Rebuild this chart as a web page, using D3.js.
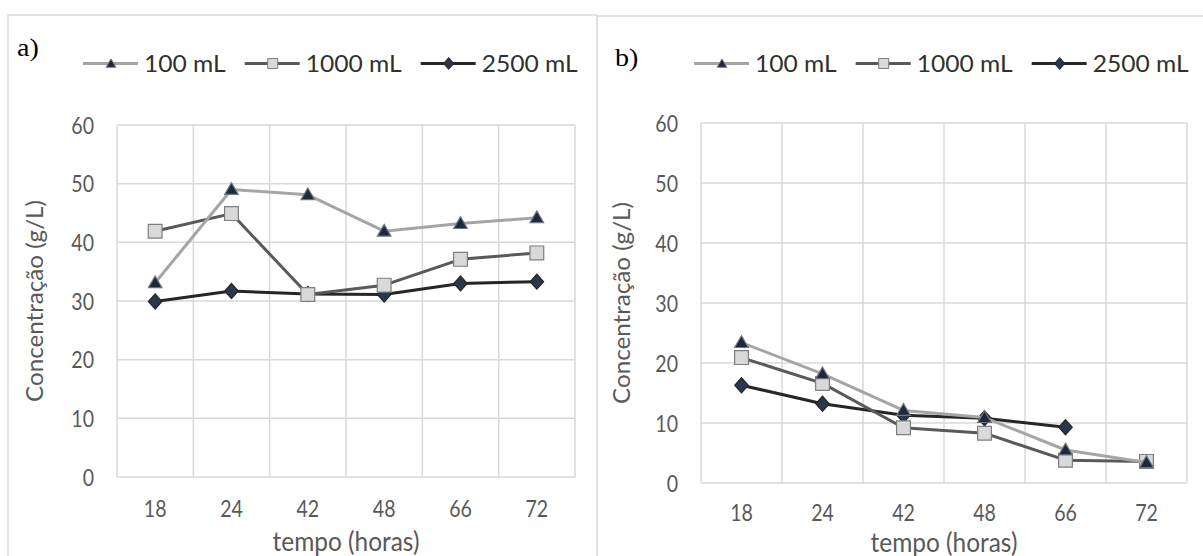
<!DOCTYPE html>
<html>
<head>
<meta charset="utf-8">
<script src="https://cdn.jsdelivr.net/npm/d3@7"></script>
<style>
  html, body { margin: 0; padding: 0; background: #fff; }
  svg { display: block; }
</style>
</head>
<body>
<div id="chart"></div>
<script>
// === data ===
const categories = ["18", "24", "42", "48", "66", "72"];
const seriesNames = ["100 mL", "1000 mL", "2500 mL"];
const yTicks = [0, 10, 20, 30, 40, 50, 60];

const a100  = [33.1, 49.0, 48.1, 41.9, 43.2, 44.2];
const a1000 = [41.9, 44.9, 31.1, 32.7, 37.1, 38.2];
const a2500 = [29.9, 31.7, 31.2, 31.1, 33.0, 33.3];

const b100  = [23.4, 18.2, 12.1, 10.9, 5.5, 3.4];
const b1000 = [20.9, 16.6, 9.2, 8.3, 3.8, 3.6];
const b2500 = [16.3, 13.2, 11.3, 10.8, 9.3, null];

// === styles ===
const styles = [
  { line: "#a5a5a5", shape: "triangle", fill: "#1e2a3b", stroke: "#6f7680" },
  { line: "#595959", shape: "square",   fill: "#d9d9d9", stroke: "#7f7f7f" },
  { line: "#262626", shape: "diamond",  fill: "#2b384c", stroke: "#262626" }
];
const FONT = "Lato, 'Open Sans', sans-serif";
const GRID = "#d9d9d9";
const TXT = "#595959";

const W = 1203, H = 556;
const svg = d3.select("#chart").append("svg")
  .attr("width", W).attr("height", H);

// panel frames
svg.append("rect")
  .attr("x", 8).attr("y", 15).attr("width", 589).attr("height", 560)
  .attr("fill", "none").attr("stroke", GRID).attr("stroke-width", 1.5);
svg.append("line")
  .attr("x1", 597).attr("x2", W).attr("y1", 16).attr("y2", 16)
  .attr("stroke", GRID).attr("stroke-width", 1.5);

const panels = [
  { tag: "a)", tagX: 17, tagY: 56, data: [a100, a1000, a2500],
    left: 117, right: 575, top: 125, bottom: 477,
    legendX: 83, legendY: 63.5, yTitleX: 43, xTitleY: 551, xLab: 39.5 },
  { tag: "b)", tagX: 615, tagY: 66, data: [b100, b1000, b2500],
    left: 701, right: 1187, top: 123, bottom: 483,
    legendX: 694, legendY: 63.5, yTitleX: 630, xTitleY: 552, xLab: 37.5 }
];

function marker(sel, shape, big) {
  if (shape === "triangle") {
    sel.attr("d", d3.symbol(d3.symbolTriangle, big ? 80 : 40)());
  } else if (shape === "square") {
    sel.attr("d", d3.symbol(d3.symbolSquare, big ? 190 : 100)());
  } else {
    sel.attr("d", d3.symbol(d3.symbolSquare, big ? 90 : 50)());
  }
  return sel;
}

function markerTransform(shape, x, y) {
  if (shape === "diamond") return `translate(${x},${y}) scale(1,1.12) rotate(45)`;
  if (shape === "triangle") return `translate(${x},${y + 1})`;
  return `translate(${x},${y})`;
}

panels.forEach(p => {
  const g = svg.append("g");

  const x = d3.scaleBand().domain(categories).range([p.left, p.right]);
  const y = d3.scaleLinear().domain([0, 60]).range([p.bottom, p.top]);

  // gridlines
  g.append("g").selectAll("line").data(yTicks).join("line")
    .attr("x1", p.left).attr("x2", p.right)
    .attr("y1", d => y(d)).attr("y2", d => y(d))
    .attr("stroke", GRID).attr("stroke-width", 1.5);
  const bounds = categories.map(c => x(c)).concat([x.range()[1]]);
  g.append("g").selectAll("line").data(bounds).join("line")
    .attr("x1", d => d).attr("x2", d => d)
    .attr("y1", p.top).attr("y2", p.bottom)
    .attr("stroke", GRID).attr("stroke-width", 1.5);

  // y axis labels
  const ya = g.append("g").attr("transform", `translate(${p.left},0)`)
    .call(d3.axisLeft(y).tickValues(yTicks).tickSize(0).tickFormat(d3.format("d")));
  ya.select(".domain").remove();
  ya.selectAll("text")
    .attr("x", null).attr("dy", null)
    .attr("transform", "translate(-23,8.3) scale(0.85,1)")
    .attr("text-anchor", "end")
    .attr("fill", TXT).style("font-family", FONT).style("font-size", "23px");

  // x axis labels
  const xa = g.append("g").attr("transform", `translate(0,${p.bottom})`)
    .call(d3.axisBottom(x).tickSize(0));
  xa.select(".domain").remove();
  xa.selectAll("text")
    .attr("y", null).attr("dy", null)
    .attr("transform", `translate(0,${p.xLab}) scale(0.85,1)`)
    .attr("fill", TXT).style("font-family", FONT).style("font-size", "23px");

  // axis titles
  g.append("text")
    .attr("transform", `translate(${(p.left + p.right) / 2},${p.xTitleY}) scale(0.94,1)`)
    .attr("text-anchor", "middle")
    .attr("fill", TXT).style("font-family", FONT).style("font-size", "26px")
    .text("tempo (horas)");
  g.append("text")
    .attr("transform", `translate(${p.yTitleX},${(p.top + p.bottom) / 2}) rotate(-90) scale(1.05,1)`)
    .attr("text-anchor", "middle")
    .attr("fill", TXT).style("font-family", FONT).style("font-size", "23px")
    .text("Concentração (g/L)");

  // panel tag
  g.append("text")
    .attr("transform", `translate(${p.tagX},${p.tagY}) scale(1.08,1)`)
    .attr("fill", "#000")
    .style("font-family", "'Liberation Serif', 'Times New Roman', serif")
    .style("font-size", "26px")
    .text(p.tag);

  // series (last series underneath, first on top)
  d3.range(p.data.length).reverse().forEach(i => {
    const vals = p.data[i];
    const st = styles[i];
    const pts = categories.map((c, k) => ({ c, v: vals[k] }));
    const line = d3.line()
      .defined(d => d.v != null)
      .x(d => x(d.c) + x.bandwidth() / 2)
      .y(d => y(d.v));
    const sg = g.append("g");
    sg.append("path").datum(pts)
      .attr("d", line)
      .attr("fill", "none").attr("stroke", st.line)
      .attr("stroke-width", 3).attr("stroke-linejoin", "round");
    sg.selectAll("path.m").data(pts.filter(d => d.v != null)).join("path")
      .attr("class", "m")
      .call(s => marker(s, st.shape, true))
      .attr("transform", d => markerTransform(st.shape, x(d.c) + x.bandwidth() / 2, y(d.v)))
      .attr("fill", st.fill).attr("stroke", st.stroke).attr("stroke-width", 1.2);
  });

  // legend
  let lx = p.legendX;
  seriesNames.forEach((name, i) => {
    const st = styles[i];
    const lg = g.append("g");
    lg.append("line")
      .attr("x1", lx).attr("x2", lx + 55)
      .attr("y1", p.legendY).attr("y2", p.legendY)
      .attr("stroke", st.line).attr("stroke-width", 3);
    lg.append("path")
      .call(s => marker(s, st.shape, false))
      .attr("transform", markerTransform(st.shape, lx + 28, p.legendY))
      .attr("fill", st.fill).attr("stroke", st.stroke).attr("stroke-width", 1);
    const t = lg.append("text")
      .attr("transform", `translate(${lx + 61},${p.legendY + 8.3}) scale(1.07,1)`)
      .attr("fill", "#303030").style("font-family", FONT).style("font-size", "23px")
      .text(name);
    lx += 61 + t.node().getComputedTextLength() * 1.07 + 19;
  });
});
</script>
</body>
</html>
